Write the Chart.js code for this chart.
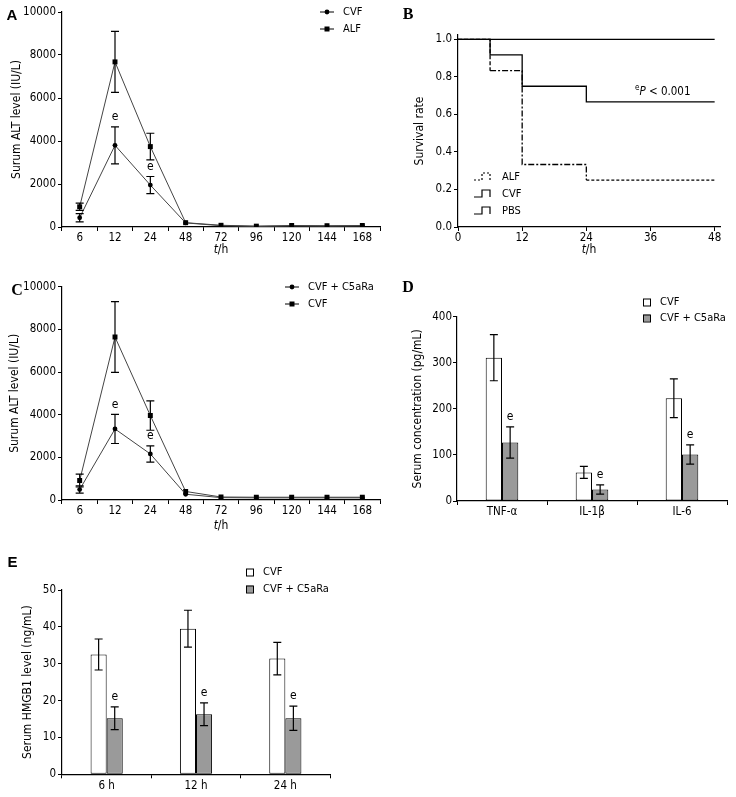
<!DOCTYPE html>
<html><head><meta charset="utf-8">
<script src="https://cdn.jsdelivr.net/npm/chart.js@4"></script>
<style>
html,body{margin:0;padding:0;background:#fff;}
#wrap{position:relative;width:736px;height:797px;overflow:hidden;background:#fff;}
canvas{position:absolute;}
</style></head><body>
<div id="wrap">
<canvas id="cA" width="390" height="262" style="left:0;top:0"></canvas>
<canvas id="cB" width="366" height="262" style="left:370px;top:0"></canvas>
<canvas id="cC" width="390" height="270" style="left:0;top:270px"></canvas>
<canvas id="cD" width="366" height="262" style="left:370px;top:270px"></canvas>
<canvas id="cE" width="370" height="267" style="left:0;top:530px"></canvas>
</div>
<script>
// ---------- DATA ----------
// Panel A
const hoursA = ['6','12','24','48','72','96','120','144','168'];
const cvfA   = [430, 3800, 1950, 190, 60, 30, 50, 40, 50];
const cvfASd = [190, 860, 400, 0, 0, 0, 0, 0, 0];
const alfA   = [940, 7680, 3740, 200, 80, 40, 70, 60, 70];
const alfASd = [170, 1420, 620, 0, 0, 0, 0, 0, 0];
const sigA   = [1, 2];
// Panel B (Kaplan-Meier)
const alfT = [0, 6, 12, 24, 48];
const alfS = [1, 0.833, 0.333, 0.25, 0.25];
const cvfT = [0, 6, 12, 24, 48];
const cvfS = [1, 0.917, 0.75, 0.667, 0.667];
const pbsT = [0, 48];
const pbsS = [1, 1];
// Panel C
const hoursC   = ['6','12','24','48','72','96','120','144','168'];
const c5aC     = [490, 3330, 2160, 270, 110, 100, 100, 100, 100];
const c5aCSd   = [170, 680, 380, 0, 0, 0, 0, 0, 0];
const cvfC     = [910, 7640, 3960, 400, 140, 130, 130, 130, 130];
const cvfCSd   = [300, 1660, 690, 0, 0, 0, 0, 0, 0];
const sigC     = [1, 2];
// Panel D
const cytokines = ['TNF-\u03b1', 'IL-1\u03b2', 'IL-6'];
const cvfD   = [311, 62, 223];
const cvfDSd = [50, 13, 42];
const c5aD   = [127, 25, 101];
const c5aDSd = [34, 10, 21];
const sigD   = [0, 1, 2];
// Panel E
const timesE = ['6 h', '12 h', '24 h'];
const cvfE   = [32.5, 39.5, 31.4];
const cvfESd = [4.2, 5.0, 4.4];
const c5aE   = [15.2, 16.3, 15.2];
const c5aESd = [3.1, 3.1, 3.3];
const sigE   = [0, 1, 2];

// ---------- STYLE ----------
const FF = "'DejaVu Sans Condensed','DejaVu Sans',sans-serif";
const SERIF = "'Liberation Serif','DejaVu Serif',serif";
const SANS = "'Liberation Sans','DejaVu Sans',sans-serif";
const GRAY = '#9a9a9a';
const LINE = '#444';
const TFS = 12; // axis title font size

function setFont(ctx, o) {
  ctx.font = `${o.style||'normal'} ${o.weight||'normal'} ${o.size||11}px ${o.family||FF}`;
}
function rich(ctx, parts, x, y, align) {
  ctx.save();
  ctx.fillStyle = '#000';
  ctx.textBaseline = 'middle';
  ctx.textAlign = 'left';
  let total = 0;
  parts.forEach(p => { setFont(ctx, p); p.w = ctx.measureText(p.t).width; total += p.w; });
  let cx = align === 'center' ? x - total / 2 : (align === 'right' ? x - total : x);
  parts.forEach(p => { setFont(ctx, p); ctx.fillText(p.t, cx, y + (p.dy || 0)); cx += p.w; });
  ctx.restore();
}
function drawMarker(ctx, kind, x, y) {
  ctx.fillStyle = '#000';
  ctx.beginPath();
  if (kind === 'circle') { ctx.arc(x, y, 2.4, 0, Math.PI * 2); }
  else { ctx.rect(x - 2.5, y - 2.5, 5, 5); }
  ctx.fill();
}

const deco = {
  id: 'deco',
  afterDatasetsDraw(chart, args, o) {
    const ctx = chart.ctx, y = chart.scales.y;
    ctx.save();
    (o.err || []).forEach(e => {
      const meta = chart.getDatasetMeta(e.ds);
      const vals = chart.data.datasets[e.ds].data;
      e.sd.forEach((s, i) => {
        if (!s) return;
        const x = meta.data[i].x, v = vals[i];
        const yt = y.getPixelForValue(v + s), yb = y.getPixelForValue(v - s);
        const c = e.cap || 4;
        ctx.strokeStyle = '#000'; ctx.lineWidth = 1.2;
        ctx.beginPath();
        ctx.moveTo(x, yt); ctx.lineTo(x, yb);
        ctx.moveTo(x - c, yt); ctx.lineTo(x + c, yt);
        ctx.moveTo(x - c, yb); ctx.lineTo(x + c, yb);
        ctx.stroke();
      });
      (e.sig || []).forEach(i => {
        const x = meta.data[i].x, yt = y.getPixelForValue(vals[i] + e.sd[i]);
        rich(ctx, [{t: 'e', size: 12}], x, yt - 10, 'center');
      });
    });
    ctx.restore();
  },
  afterDraw(chart, args, o) {
    const ctx = chart.ctx;
    ctx.save();
    (o.legend || []).forEach(it => {
      ctx.strokeStyle = '#000'; ctx.lineWidth = 1;
      if (it.kind === 'line') {
        ctx.beginPath(); ctx.moveTo(it.x0, it.y); ctx.lineTo(it.x1, it.y); ctx.stroke();
        drawMarker(ctx, it.marker, (it.x0 + it.x1) / 2, it.y);
      } else if (it.kind === 'box') {
        ctx.fillStyle = it.fill;
        ctx.fillRect(it.x0, it.y - 3.5, 7, 7);
        ctx.strokeRect(it.x0 + 0.5, it.y - 3.5 + 0.5, 7, 7);
      } else if (it.kind === 'km') {
        ctx.setLineDash(it.dash || []);
        ctx.lineWidth = 1.2;
        ctx.beginPath();
        ctx.moveTo(it.x0, it.y + 3); ctx.lineTo(it.x0 + 8, it.y + 3);
        ctx.lineTo(it.x0 + 8, it.y - 4); ctx.lineTo(it.x0 + 16, it.y - 4);
        ctx.lineTo(it.x0 + 16, it.y + 3);
        ctx.stroke();
        ctx.setLineDash([]);
      }
      rich(ctx, [{t: it.text, size: 11}], it.tx, it.y, 'left');
    });
    (o.texts || []).forEach(t => rich(ctx, t.parts, t.x, t.y, t.align));
    ctx.restore();
  }
};
Chart.register(deco);

const tickFont = {family: FF, size: 11.5};
function axisX(extra) {
  return Object.assign({
    grid: {drawOnChartArea: false, drawTicks: true, tickLength: 4, color: '#000', lineWidth: 1},
    border: {color: '#000', width: 1.2},
    ticks: {color: '#000', font: tickFont, padding: 0, maxRotation: 0, autoSkip: false},
  }, extra);
}
function axisY(extra, titleText, titlePad) {
  return Object.assign({
    grid: {drawOnChartArea: false, drawTicks: true, tickLength: 4, color: '#000', lineWidth: 1},
    border: {color: '#000', width: 1.2},
    title: {display: true, text: titleText, color: '#000', font: {family: FF, size: TFS}, padding: {top: titlePad, bottom: 0}},
  }, extra);
}
const plain = v => String(v);
const base = {responsive: false, animation: false, events: []};
const tTitle = (x, y) => ({parts: [{t: 't', style: 'italic', size: 12}, {t: '/h', size: 12}], x, y, align: 'center'});

// ---------- PANEL A ----------
new Chart(document.getElementById('cA'), {
  type: 'line',
  data: {labels: hoursA, datasets: [
    {label: 'CVF', data: cvfA, borderColor: LINE, borderWidth: 1, pointStyle: 'circle', pointRadius: 2.4, pointBorderWidth: 0, pointBackgroundColor: '#000'},
    {label: 'ALF', data: alfA, borderColor: LINE, borderWidth: 1, pointStyle: 'rect', pointRadius: 3.5, pointBorderWidth: 0, pointBackgroundColor: '#000'}
  ]},
  options: Object.assign({}, base, {
    layout: {padding: {left: 0, top: 12, right: 10, bottom: 0}},
    plugins: {legend: {display: false}, tooltip: {enabled: false},
      deco: {
        err: [{ds: 1, sd: alfASd}, {ds: 0, sd: cvfASd, sig: sigA}],
        legend: [
          {kind: 'line', marker: 'circle', x0: 320, x1: 334, y: 12, text: 'CVF', tx: 343},
          {kind: 'line', marker: 'rect', x0: 320, x1: 334, y: 29, text: 'ALF', tx: 343}
        ],
        texts: [
          {parts: [{t: 'A', weight: 'bold', size: 15, family: SANS}], x: 12, y: 16, align: 'center'},
          tTitle(221, 250)
        ]
      }},
    scales: {
      x: axisX({offset: true, grid: {offset: true, drawOnChartArea: false, tickLength: 4, color: '#000'}, afterFit: s => { s.height = 35; }}),
      y: axisY({min: 0, max: 10000, ticks: {stepSize: 2000, color: '#000', font: tickFont, padding: 2, callback: plain}, afterFit: s => { s.width = 62; }}, 'Surum ALT level (IU/L)', 10)
    }
  })
});

// ---------- PANEL B ----------
const pts = (xs, ys) => xs.map((x, i) => ({x, y: ys[i]}));
new Chart(document.getElementById('cB'), {
  type: 'line',
  data: {datasets: [
    {label: 'PBS', data: pts(pbsT, pbsS), borderColor: '#000', borderWidth: 1.3, pointRadius: 0, stepped: true},
    {label: 'CVF', data: pts(cvfT, cvfS), borderColor: '#000', borderWidth: 1.3, pointRadius: 0, stepped: true},
    {label: 'ALF', data: pts(alfT, alfS), borderColor: '#000', borderWidth: 1.3, pointRadius: 0, stepped: true,
      segment: {borderDash: c => [[4, 2], [6, 2, 2, 2], [6, 2, 2, 2], [3, 2]][c.p0DataIndex] || []}}
  ]},
  options: Object.assign({}, base, {
    layout: {padding: {left: 0, top: 35, right: 16, bottom: 0}},
    plugins: {legend: {display: false}, tooltip: {enabled: false},
      deco: {
        legend: [
          {kind: 'km', dash: [2, 2], x0: 104, y: 177, text: 'ALF', tx: 132},
          {kind: 'km', x0: 104, y: 194, text: 'CVF', tx: 132},
          {kind: 'km', x0: 104, y: 211, text: 'PBS', tx: 132}
        ],
        texts: [
          {parts: [{t: 'B', weight: 'bold', size: 16, family: SERIF}], x: 38, y: 15, align: 'center'},
          {parts: [{t: 'e', size: 8, dy: -4}, {t: 'P', style: 'italic', size: 11.5}, {t: ' < 0.001', size: 11.5}], x: 265, y: 92, align: 'left'},
          tTitle(219, 250)
        ]
      }},
    scales: {
      x: axisX({type: 'linear', min: 0, max: 49, ticks: {stepSize: 12, includeBounds: false, color: '#000', font: tickFont, padding: 0, maxRotation: 0}, afterFit: s => { s.height = 35; }}),
      y: axisY({min: 0, max: 1.023, ticks: {stepSize: 0.2, includeBounds: false, color: '#000', font: tickFont, padding: 2, callback: v => v.toFixed(1)}, afterFit: s => { s.width = 88; }}, 'Survival rate', 43)
    }
  })
});

// ---------- PANEL C ----------
new Chart(document.getElementById('cC'), {
  type: 'line',
  data: {labels: hoursC, datasets: [
    {label: 'CVF + C5aRa', data: c5aC, borderColor: LINE, borderWidth: 1, pointStyle: 'circle', pointRadius: 2.4, pointBorderWidth: 0, pointBackgroundColor: '#000'},
    {label: 'CVF', data: cvfC, borderColor: LINE, borderWidth: 1, pointStyle: 'rect', pointRadius: 3.5, pointBorderWidth: 0, pointBackgroundColor: '#000'}
  ]},
  options: Object.assign({}, base, {
    layout: {padding: {left: 0, top: 16.7, right: 10, bottom: 0}},
    plugins: {legend: {display: false}, tooltip: {enabled: false},
      deco: {
        err: [{ds: 1, sd: cvfCSd}, {ds: 0, sd: c5aCSd, sig: sigC}],
        legend: [
          {kind: 'line', marker: 'circle', x0: 285, x1: 299, y: 17, text: 'CVF + C5aRa', tx: 308},
          {kind: 'line', marker: 'rect', x0: 285, x1: 299, y: 34, text: 'CVF', tx: 308}
        ],
        texts: [
          {parts: [{t: 'C', weight: 'bold', size: 16, family: SERIF}], x: 17, y: 21, align: 'center'},
          tTitle(221, 256)
        ]
      }},
    scales: {
      x: axisX({offset: true, grid: {offset: true, drawOnChartArea: false, tickLength: 4, color: '#000'}, afterFit: s => { s.height = 40; }}),
      y: axisY({min: 0, max: 10000, ticks: {stepSize: 2000, color: '#000', font: tickFont, padding: 2, callback: plain}, afterFit: s => { s.width = 62; }}, 'Surum ALT level (IU/L)', 8)
    }
  })
});

// ---------- PANEL D ----------
new Chart(document.getElementById('cD'), {
  type: 'bar',
  data: {labels: cytokines, datasets: [
    {label: 'CVF', data: cvfD, backgroundColor: '#fff', borderColor: '#000', borderWidth: 1, borderSkipped: false},
    {label: 'CVF + C5aRa', data: c5aD, backgroundColor: GRAY, borderColor: '#000', borderWidth: 1, borderSkipped: false}
  ]},
  options: Object.assign({}, base, {
    datasets: {bar: {categoryPercentage: 0.362, barPercentage: 1}},
    layout: {padding: {left: 0, top: 46.7, right: 9, bottom: 0}},
    plugins: {legend: {display: false}, tooltip: {enabled: false},
      deco: {
        err: [{ds: 0, sd: cvfDSd}, {ds: 1, sd: c5aDSd, sig: sigD}],
        legend: [
          {kind: 'box', fill: '#fff', x0: 273, y: 32, text: 'CVF', tx: 290},
          {kind: 'box', fill: GRAY, x0: 273, y: 48, text: 'CVF + C5aRa', tx: 290}
        ],
        texts: [
          {parts: [{t: 'D', weight: 'bold', size: 16, family: SERIF}], x: 38, y: 18, align: 'center'}
        ]
      }},
    scales: {
      x: axisX({afterFit: s => { s.height = 31; }}),
      y: axisY({min: 0, max: 400, ticks: {stepSize: 100, color: '#000', font: tickFont, padding: 1}, afterFit: s => { s.width = 87; }}, 'Serum concentration (pg/mL)', 41)
    }
  })
});

// ---------- PANEL E ----------
new Chart(document.getElementById('cE'), {
  type: 'bar',
  data: {labels: timesE, datasets: [
    {label: 'CVF', data: cvfE, backgroundColor: '#fff', borderColor: '#000', borderWidth: 1, borderSkipped: false},
    {label: 'CVF + C5aRa', data: c5aE, backgroundColor: GRAY, borderColor: '#000', borderWidth: 1, borderSkipped: false}
  ]},
  options: Object.assign({}, base, {
    datasets: {bar: {categoryPercentage: 0.36, barPercentage: 1}},
    layout: {padding: {left: 0, top: 60, right: 40, bottom: 0}},
    plugins: {legend: {display: false}, tooltip: {enabled: false},
      deco: {
        err: [{ds: 0, sd: cvfESd}, {ds: 1, sd: c5aESd, sig: sigE}],
        legend: [
          {kind: 'box', fill: '#fff', x0: 246, y: 42, text: 'CVF', tx: 263},
          {kind: 'box', fill: GRAY, x0: 246, y: 59, text: 'CVF + C5aRa', tx: 263}
        ],
        texts: [
          {parts: [{t: 'E', weight: 'bold', size: 15, family: SANS}], x: 12.5, y: 33, align: 'center'}
        ]
      }},
    scales: {
      x: axisX({ticks: {color: '#000', font: tickFont, padding: 1, maxRotation: 0}, afterFit: s => { s.height = 22.7; }}),
      y: axisY({min: 0, max: 50, ticks: {stepSize: 10, color: '#000', font: tickFont, padding: 2}, afterFit: s => { s.width = 62; }}, 'Serum HMGB1 level (ng/mL)', 21)
    }
  })
});
</script>
</body></html>
